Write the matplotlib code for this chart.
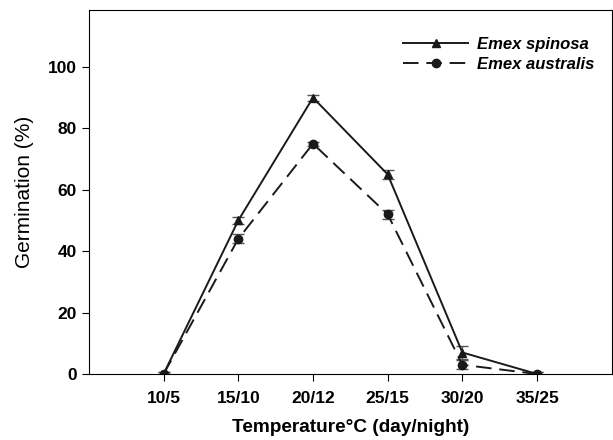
import numpy as np
import matplotlib
matplotlib.use('Agg')
import matplotlib.pyplot as plt
from matplotlib.lines import Line2D

plt.rcParams['font.family'] = 'Liberation Sans'

temps = ['10/5', '15/10', '20/12', '25/15', '30/20', '35/25']
spinosa = [0, 50, 90, 65, 7, 0]
spinosa_err = [0.5, 1.2, 1.0, 1.5, 2.0, 0.5]
australis = [0, 44, 75, 52, 3, 0]
australis_err = [0.5, 1.5, 0.6, 1.5, 1.5, 0.5]

x = np.arange(len(temps))

fig = plt.figure(figsize=(6.13, 4.4), dpi=100)
ax = fig.add_axes([0.145, 0.15, 0.853, 0.827])

ax.errorbar(x, spinosa, yerr=spinosa_err, color='#1a1a1a', marker='^', ms=6,
            lw=1.4, capsize=4, elinewidth=1, ecolor='#555555')
ax.errorbar(x, australis, yerr=australis_err, color='#1a1a1a', marker='o', ms=6,
            lw=1.4, ls=(0, (8, 4)), capsize=4, elinewidth=1, ecolor='#555555')

ax.set_xlim(-1, 6)
ax.set_ylim(0, 118.5)
ax.set_xticks(x)
ax.set_xticklabels(temps, fontweight='bold', fontsize=12.5)
ax.set_yticks([0, 20, 40, 60, 80, 100])
ax.set_yticklabels(['0', '20', '40', '60', '80', '100'], fontweight='bold', fontsize=12.5)
ax.tick_params(direction='out', length=5, top=False, right=False)
ax.tick_params(axis='x', pad=7.5)
ax.set_xlabel('Temperature°C (day/night)', fontweight='bold', fontsize=13.7, labelpad=9)
ax.set_ylabel('Germination (%)', fontsize=15, labelpad=10)

handles = [Line2D([], [], color='#1a1a1a', marker='^', ms=6, lw=1.4),
           Line2D([], [], color='#1a1a1a', marker='o', ms=6, lw=1.4, ls=(0, (8, 4)))]
ax.legend(handles, ['Emex spinosa', 'Emex australis'], loc='upper right',
          frameon=False, handlelength=3.9, handletextpad=0.5, labelspacing=0.3,
          prop={'weight': 'bold', 'style': 'italic', 'size': 12},
          bbox_to_anchor=(0.995, 0.967))

fig.savefig('out.png', dpi=100)
